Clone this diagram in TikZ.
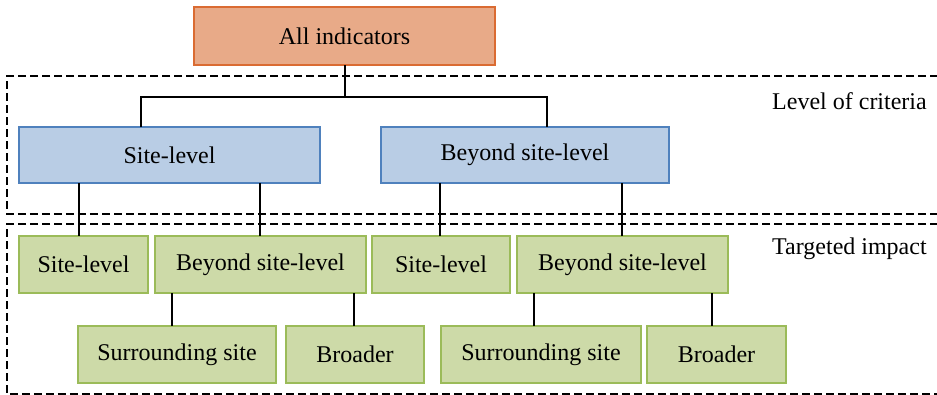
\documentclass[tikz,border=0pt]{standalone}
\usepackage{fontspec}
\setmainfont{Liberation Serif}
\definecolor{topfill}{HTML}{E8AA88}
\definecolor{topline}{HTML}{DA6B32}
\definecolor{bluefill}{HTML}{B9CDE5}
\definecolor{blueline}{HTML}{4F81BD}
\definecolor{greenfill}{HTML}{CDDAA8}
\definecolor{greenline}{HTML}{9BBB59}
\tikzset{
  box/.style={draw, rectangle, line width=1.5pt, inner sep=0pt, outer sep=0pt,
    font=\fontsize{24}{28}\selectfont, text=black},
  topbox/.style={box, fill=topfill, draw=topline},
  bluebox/.style={box, fill=bluefill, draw=blueline, minimum height=56pt},
  greenbox/.style={box, fill=greenfill, draw=greenline, minimum height=57pt},
  link/.style={draw=black, line width=1.6pt},
  region/.style={draw=black, line width=1.5pt, dash pattern=on 8pt off 4pt},
  tag/.style={anchor=west, inner sep=0pt, font=\fontsize{24}{28}\selectfont}
}
\begin{document}
\begin{tikzpicture}[x=1pt, y=-1pt]
\useasboundingbox (0,0) rectangle (937,394);
\clip (0,0) rectangle (937,394);
\fill[white] (0,0) rectangle (937,394);

% dashed bands (they run on past the right edge)
\draw[region] (950,76) -- (7,76) -- (7,214) -- (950,214);
\draw[region] (950,224) -- (7,224) -- (7,394) -- (950,394);

% root
\node[topbox, minimum width=301pt, minimum height=58pt] (top) at (344.5,36) {All indicators};

% level of criteria
\node[bluebox, minimum width=301pt] (b1) at (169.5,155) {Site-level};
\node[bluebox, minimum width=288pt] (b2) at (525,155) {Beyond site-level};

% targeted impact, first row
\node[greenbox, minimum width=129pt] (g1) at (83.5,264.5) {Site-level};
\node[greenbox, minimum width=211pt] (g2) at (260.5,264.5) {Beyond site-level};
\node[greenbox, minimum width=138pt] (g3) at (441,264.5) {Site-level};
\node[greenbox, minimum width=211pt] (g4) at (622.5,264.5) {Beyond site-level};

% targeted impact, second row
\node[greenbox, minimum width=198pt] (s1) at (177,354.5) {Surrounding site};
\node[greenbox, minimum width=138pt] (r1) at (355,354.5) {Broader};
\node[greenbox, minimum width=200pt] (s2) at (541,354.5) {Surrounding site};
\node[greenbox, minimum width=139pt] (r2) at (716.5,354.5) {Broader};

% band labels
\node[tag] (lc) at (772,101) {Level of criteria};
\node[tag] (ti) at (772,249) {Targeted impact};

% connectors
\coordinate (j) at (345,97);
\draw[link] (top.south -| j) -- (j);
\draw[link] (b1.north -| 141,0) |- (j) -| (b2.north -| 547,0);

\draw[link] (b1.south -| 79,0) -- (g1.north -| 79,0);
\draw[link] (b1.south -| 260,0) -- (g2.north -| 260,0);
\draw[link] (b2.south -| 440,0) -- (g3.north -| 440,0);
\draw[link] (b2.south -| 622,0) -- (g4.north -| 622,0);

\draw[link] (g2.south -| 172,0) -- (s1.north -| 172,0);
\draw[link] (g2.south -| 354,0) -- (r1.north -| 354,0);
\draw[link] (g4.south -| 534,0) -- (s2.north -| 534,0);
\draw[link] (g4.south -| 712,0) -- (r2.north -| 712,0);
\end{tikzpicture}
\end{document}
